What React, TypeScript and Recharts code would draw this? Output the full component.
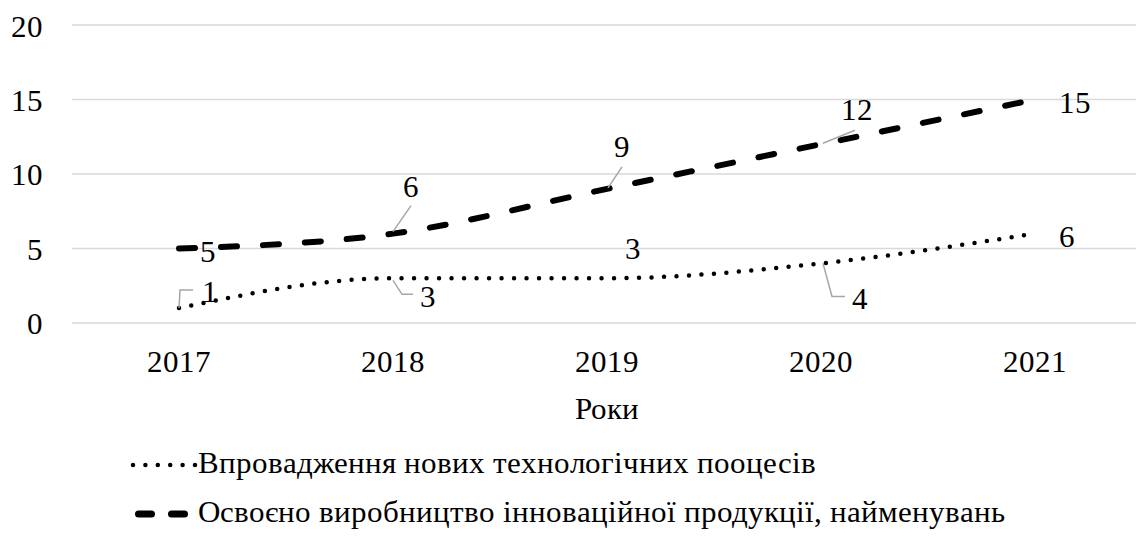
import React from 'react';
import { LineChart, Line, XAxis, YAxis, CartesianGrid, LabelList, Legend } from 'recharts';

const years = ['2017', '2018', '2019', '2020', '2021'];
const processes = [1, 3, 3, 4, 6];
const products = [5, 6, 9, 12, 15];
const yTicks = [0, 5, 10, 15, 20];
const seriesNames = [
  'Впровадження нових технологічних пооцесів',
  'Освоєно виробництво інноваційної продукції, найменувань',
];
const xTitle = 'Роки';

const data = years.map((y, i) => ({ year: y, processes: processes[i], products: products[i] }));

const FONT_FACE = `@font-face { font-family: "ChartSerif"; src: local("Liberation Serif"), local("LiberationSerif"), local("Liberation Serif Regular"), local("LiberationSerif-Regular"), local("Tinos"), local("Tinos Regular"), local("Tinos-Regular"), local("Times New Roman"); font-weight: 400; font-style: normal; }`;
const FONT = '"ChartSerif", "Liberation Serif", "Tinos", "Times New Roman", "DejaVu Serif"';
const FS = 31;

// label placement relative to the point (dx, dy) and optional leader polyline
type LP = { dx: number; dy: number; leader?: number[][] };
const processLabels: LP[] = [
  { dx: 31, dy: -17, leader: [[0, 0], [1, -18], [14, -18]] },
  { dx: 35, dy: 18, leader: [[0, 2], [9, 16], [20, 16]] },
  { dx: 26, dy: -30 },
  { dx: 39, dy: 35, leader: [[2, 0], [11, 33], [24, 33]] },
  { dx: 32, dy: 3 },
];
const productLabels: LP[] = [
  { dx: 29, dy: 3 },
  { dx: 18, dy: -47, leader: [[0, -2], [18, -28]] },
  { dx: 15, dy: -42, leader: [[1, -1], [15, -22]] },
  { dx: 36, dy: -35, leader: [[2, -1], [34, -14]] },
  { dx: 40, dy: 3 },
];

const makeLabel = (cfg: LP[]) => (props: any) => {
  const { x, y, value, index } = props;
  const c = cfg[index];
  if (!c) return null;
  return (
    <g>
      {c.leader && (
        <polyline
          points={c.leader.map((p) => `${x + p[0]},${y + p[1]}`).join(' ')}
          fill="none"
          stroke="#a6a6a6"
          strokeWidth={1.5}
        />
      )}
      <text
        x={x + c.dx}
        y={y + c.dy}
        textAnchor="middle"
        dominantBaseline="central"
        style={{ fontFamily: FONT, fontSize: FS }}
        fill="#000"
      >
        {value}
      </text>
    </g>
  );
};

const LegendContent = () => (
  <div lang="uk" style={{ fontFamily: FONT, fontSize: FS, color: '#000', lineHeight: '49px' }}>
    <div style={{ display: 'flex', alignItems: 'center' }}>
      <svg width={68} height={20}>
        <line x1={3} y1={12} x2={66} y2={12} stroke="#000" strokeWidth={4.5} strokeLinecap="round" strokeDasharray="0 12.4" />
      </svg>
      <span style={{ fontFamily: FONT }}>{seriesNames[0]}</span>
    </div>
    <div style={{ display: 'flex', alignItems: 'center' }}>
      <svg width={68} height={20}>
        <line x1={8.5} y1={12} x2={54.5} y2={12} stroke="#000" strokeWidth={7} strokeLinecap="round" strokeDasharray="13 20" />
      </svg>
      <span style={{ fontFamily: FONT }}>{seriesNames[1]}</span>
    </div>
  </div>
);

const tickStyle = { fontFamily: FONT, fontSize: FS, fill: '#000' };

const XTitle = (props: any) => {
  const { viewBox } = props;
  const cx = viewBox.x + viewBox.width / 2;
  return (
    <text x={cx} y={viewBox.y + 85} textAnchor="middle" dominantBaseline="central" style={{ fontFamily: FONT, fontSize: FS }} fill="#000">
      {xTitle}
    </text>
  );
};

export default function App() {
  return (
    <div lang="uk" style={{ fontFamily: FONT }}>
      <style>{FONT_FACE}</style>
      <LineChart
        width={1136}
        height={542}
        data={data}
        margin={{ top: 17, right: 2, bottom: 157, left: 0 }}
        style={{ fontFamily: FONT }}
      >
        <CartesianGrid vertical={false} stroke="#d9d9d9" strokeWidth={1.5} />
        <XAxis
          dataKey="year"
          axisLine={false}
          tickLine={false}
          tickSize={0}
          tickMargin={27}
          height={70}
          padding={{ left: 107, right: 107 }}
          tick={tickStyle}
          label={<XTitle />}
        />
        <YAxis
          domain={[0, 20]}
          ticks={yTicks}
          width={64}
          axisLine={false}
          tickLine={false}
          tickSize={0}
          tickMargin={29}
          tick={tickStyle}
        />
        <Legend
          layout="vertical"
          align="center"
          verticalAlign="middle"
          content={<LegendContent />}
          wrapperStyle={{ left: 122, top: 430, width: 1000 }}
        />
        <Line
          type="monotone"
          dataKey="processes"
          name={seriesNames[0]}
          stroke="#000"
          strokeWidth={4.5}
          strokeLinecap="round"
          strokeDasharray="0 12.5"
          dot={false}
          activeDot={false}
          isAnimationActive={false}
        >
          <LabelList dataKey="processes" content={makeLabel(processLabels)} />
        </Line>
        <Line
          type="monotone"
          dataKey="products"
          name={seriesNames[1]}
          stroke="#000"
          strokeWidth={6}
          strokeLinecap="round"
          strokeDasharray="16 26"
          dot={false}
          activeDot={false}
          isAnimationActive={false}
        >
          <LabelList dataKey="products" content={makeLabel(productLabels)} />
        </Line>
      </LineChart>
    </div>
  );
}
